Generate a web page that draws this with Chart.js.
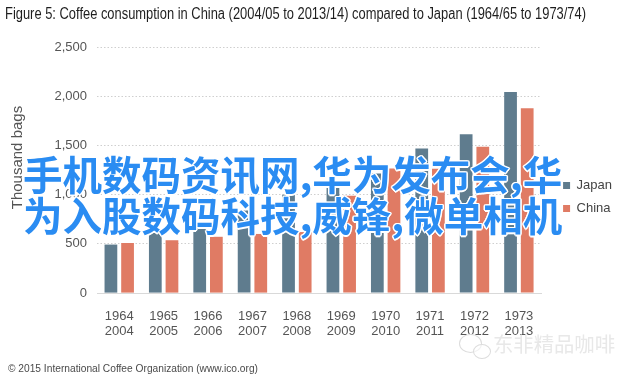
<!DOCTYPE html>
<html>
<head>
<meta charset="utf-8">
<script src="https://cdn.jsdelivr.net/npm/chart.js@4.4.0/dist/chart.umd.min.js"></script>
<style>
  html, body { margin: 0; padding: 0; background: #fff; }
  #wrap { position: relative; width: 640px; height: 377px; overflow: hidden; }
  #chart { position: absolute; left: 0; top: 0; }
  .txt { position: absolute; white-space: nowrap; transform-origin: 0 50%; }
  #title { left: 5px; top: 4px; font: 16px/20px "Liberation Sans Narrow", "Liberation Sans", sans-serif; color: #1e1e1e; }
  #source { left: 8px; top: 361px; font: 10.5px/14px "Liberation Sans", Arial, sans-serif; color: #4a4a4a; }
  #brand { left: 493px; top: 331px; font: 20px/26px "Noto Sans CJK SC", sans-serif; color: #e8e8e8; }
  .bubble { position: absolute; border: 1.5px solid #dcdcdc; border-radius: 50%; background: rgba(255,255,255,0.6); }
  #promo {
    left: 23px; top: 152px; font: 700 39.5px/41px "Noto Sans CJK SC", sans-serif;
    color: #2a8cf2;
    text-shadow: -1.5px 0 #fff, 1.5px 0 #fff, 0 -1.5px #fff, 0 1.5px #fff,
                 -1px -1px #fff, 1px -1px #fff, -1px 1px #fff, 1px 1px #fff;
  }
</style>
</head>
<body>
<div id="wrap">
  <canvas id="chart" width="640" height="377"></canvas>
  <div class="txt" id="title">Figure 5: Coffee consumption in China (2004/05 to 2013/14) compared to Japan (1964/65 to 1973/74)</div>
  <div class="txt" id="source">© 2015 International Coffee Organization (www.ico.org)</div>
  <div class="bubble" style="left:459px; top:334px; width:21px; height:17px;"></div>
  <div class="bubble" style="left:473px; top:344px; width:16px; height:13px;"></div>
  <div class="txt" id="brand">东非精品咖啡</div>
  <div class="txt" id="promo">手机数码资讯网,华为发布会,华<br>为入股数码科技,威锋,微单相机</div>
</div>
<script>
const japanYears = ["1964", "1965", "1966", "1967", "1968", "1969", "1970", "1971", "1972", "1973"];
const chinaYears = ["2004", "2005", "2006", "2007", "2008", "2009", "2010", "2011", "2012", "2013"];
const japanBags = [493, 612, 675, 840, 1000, 1100, 1216, 1470, 1614, 2043];
const chinaBags = [509, 537, 572, 601, 620, 990, 1266, 1264, 1487, 1878];

const japanColor = "#5f7c8e";
const chinaColor = "#e07b64";
const axisFont = { family: "'Liberation Sans', Arial, sans-serif", size: 13 };

const labels = japanYears.map((y, i) => [y, chinaYears[i]]);

new Chart(document.getElementById("chart"), {
  type: "bar",
  data: {
    labels,
    datasets: [
      { label: "Japan", data: japanBags, backgroundColor: japanColor },
      { label: "China", data: chinaBags, backgroundColor: chinaColor }
    ]
  },
  options: {
    responsive: false,
    animation: false,
    categoryPercentage: 0.75,
    barPercentage: 0.765,
    layout: { padding: { left: 4, right: 18, top: 47, bottom: 30 } },
    plugins: {
      tooltip: { enabled: false },
      legend: {
        position: "right",
        labels: { boxWidth: 7, boxHeight: 7, padding: 10, color: "#444", font: axisFont }
      }
    },
    scales: {
      x: {
        grid: { display: false },
        border: { display: true, color: "#d9d9d9" },
        ticks: { color: "#555", font: { ...axisFont, lineHeight: 1.15 }, padding: 8, maxRotation: 0, autoSkip: false }
      },
      y: {
        min: 0,
        max: 2500,
        ticks: { stepSize: 500, color: "#555", font: axisFont, padding: 10 },
        grid: { color: "#cfcfcf", drawTicks: false },
        border: { display: false, dash: [1.5, 2] },
        title: {
          display: true,
          text: "      Thousand bags",
          color: "#555",
          font: { family: "'Liberation Sans', Arial, sans-serif", size: 15 },
          padding: { top: 4.5, bottom: 18 }
        }
      },
      gap: {
        position: "right",
        grid: { display: false, drawTicks: false },
        ticks: { display: false },
        border: { display: false },
        afterFit: s => { s.width = 12; }
      }
    }
  }
});

function fitWidth(id, target) {
  const el = document.getElementById(id);
  const w = el.getBoundingClientRect().width;
  el.style.transform = `scaleX(${target / w})`;
}
document.fonts.ready.then(() => {
  fitWidth("title", 581);
  fitWidth("source", 250);
  fitWidth("brand", 122);
});
</script>
</body>
</html>
